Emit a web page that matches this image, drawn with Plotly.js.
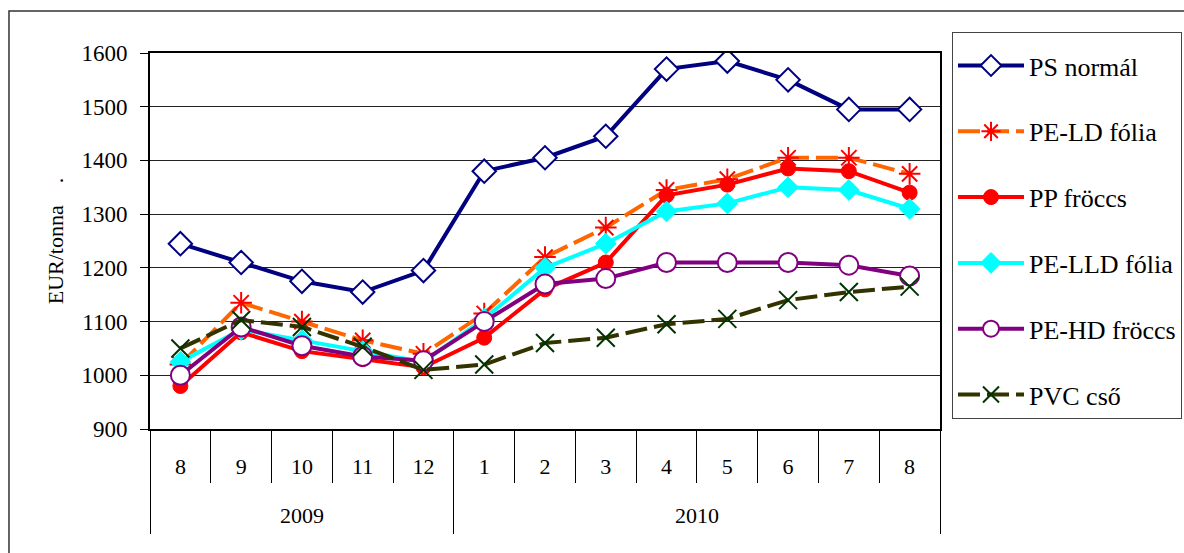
<!DOCTYPE html>
<html>
<head>
<meta charset="utf-8">
<script src="https://cdn.plot.ly/plotly-3.0.1.min.js"></script>
<style>html,body{margin:0;padding:0;background:#fff;}#chart{width:1184px;height:553px;}</style>
</head>
<body>
<div id="chart"></div>
<script>
// Category axis
const years  = ['2009','2009','2009','2009','2009','2010','2010','2010','2010','2010','2010','2010','2010'];
const months = ['8','9','10','11','12','1','2','3','4','5','6','7','8'];

// Series values (EUR/tonna)
const psNormal   = [1245,1210,1175,1155,1195,1380,1405,1445,1570,1585,1550,1495,1495];
const peLdFolia  = [1020,1135,1100,1065,1040,1115,1220,1275,1345,1365,1405,1405,1375];
const ppFroccs   = [980,1080,1045,1030,1015,1070,1160,1210,1335,1355,1385,1380,1340];
const peLldFolia = [1025,1085,1065,1045,1025,1105,1200,1245,1305,1320,1350,1345,1310];
const peHdFroccs = [1000,1090,1055,1035,1027,1100,1170,1180,1210,1210,1210,1205,1185];
const pvcCso     = [1050,1103,1090,1053,1010,1020,1060,1070,1095,1105,1140,1155,1165];

const seriesNames = ['PS normál','PE-LD fólia','PP fröccs','PE-LLD fólia','PE-HD fröccs','PVC cső'];
const yTitle = 'EUR/tonna\u00a0\u00a0\u00a0\u00a0.';

const FONT = 'Liberation Serif';

// category positions derived from the label arrays
const idx = months.map((_, i) => i);
const monthBounds = idx.map(i => i - 0.5).concat([months.length - 0.5]);
const yearNames = [...new Set(years)];
const yearCenters = yearNames.map(yr => {
  const ii = idx.filter(i => years[i] === yr);
  return (ii[0] + ii[ii.length - 1]) / 2;
});
const yearBounds = [-0.5].concat(yearNames.map(yr => {
  const ii = idx.filter(i => years[i] === yr);
  return ii[ii.length - 1] + 0.5;
}));
const xRange = [-0.5, months.length - 0.5];

function tr(name, y, lineColor, dash, symbol, mSize, mColor, mFill, mLineW) {
  return {
    type: 'scatter', mode: 'lines+markers', name: name, legendgroup: name,
    x: idx, y: y,
    line: {color: lineColor, width: 4, dash: dash},
    marker: {symbol: symbol, size: mSize, color: mFill, line: {color: mColor, width: mLineW}}
  };
}
function axisHolder(xa) {
  return {type: 'scatter', mode: 'lines', xaxis: xa, yaxis: 'y', x: xRange, y: [null, null],
          showlegend: false, hoverinfo: 'skip'};
}

const data = [
  tr(seriesNames[0], psNormal,   '#000080', 'solid',     'diamond',        18, '#000080', '#ffffff', 2),
  tr(seriesNames[1], peLdFolia,  '#FF6600', '22px,7px',  'asterisk-open',  18, '#FF0000', '#FF0000', 2),
  tr(seriesNames[2], ppFroccs,   '#FF0000', 'solid',     'circle',         15, '#FF0000', '#FF0000', 1),
  tr(seriesNames[3], peLldFolia, '#00FFFF', 'solid',     'diamond',        16, '#00FFFF', '#00FFFF', 1),
  tr(seriesNames[4], peHdFroccs, '#800080', 'solid',     'circle',         19, '#800080', '#ffffff', 2),
  tr(seriesNames[5], pvcCso,     '#333300', '22px,7px',  'x-thin-open',    18, '#003300', '#003300', 2),
  axisHolder('x2'), axisHolder('x3'), axisHolder('x4')
];

const baseX = {showgrid: false, zeroline: false, range: xRange, fixedrange: true};

const layout = {
  width: 1184, height: 553,
  margin: {l: 150, r: 244, t: 53, b: 124, autoexpand: false},
  paper_bgcolor: '#ffffff', plot_bgcolor: '#ffffff',
  font: {family: FONT, color: '#000', size: 22},
  showlegend: true,
  xaxis: Object.assign({}, baseX, {
    showline: true, mirror: true, linecolor: '#000', linewidth: 2,
    tickmode: 'array', tickvals: idx, ticktext: months,
    ticks: '', ticklabelstandoff: 17,
    tickfont: {family: FONT, size: 22, color: '#000'}
  }),
  xaxis2: Object.assign({}, baseX, {
    overlaying: 'x', anchor: 'y', side: 'bottom', showline: false,
    tickmode: 'array', tickvals: monthBounds, showticklabels: false,
    ticks: 'outside', ticklen: 53, tickwidth: 1, tickcolor: '#000'
  }),
  xaxis3: Object.assign({}, baseX, {
    overlaying: 'x', anchor: 'y', side: 'bottom', showline: false,
    tickmode: 'array', tickvals: yearBounds, showticklabels: false,
    ticks: 'outside', ticklen: 104, tickwidth: 1, tickcolor: '#000'
  }),
  xaxis4: Object.assign({}, baseX, {
    overlaying: 'x', anchor: 'y', side: 'bottom', showline: false,
    tickmode: 'array', tickvals: yearCenters, ticktext: yearNames,
    ticks: '', ticklabelstandoff: 71,
    tickfont: {family: FONT, size: 22, color: '#000'}
  }),
  yaxis: {
    range: [900, 1600], dtick: 100, tick0: 900,
    showline: true, mirror: true, linecolor: '#000', linewidth: 2,
    showgrid: true, gridcolor: '#222', gridwidth: 1,
    ticks: 'outside', ticklen: 8, tickcolor: '#000', tickwidth: 1,
    ticklabelstandoff: 8,
    tickfont: {family: FONT, size: 23, color: '#000'},
    zeroline: false, automargin: true,
    title: {text: yTitle, standoff: 12, font: {family: FONT, size: 22, color: '#000'}}
  },
  legend: {
    x: 1.0152, y: 1.0559, xanchor: 'left', yanchor: 'top',
    bordercolor: '#444', borderwidth: 1, bgcolor: '#ffffff',
    font: {family: FONT, size: 26, color: '#000'},
    title: {text: ' ', font: {family: FONT, size: 7}},
    traceorder: 'grouped', tracegroupgap: 29, itemwidth: 66,
    maxheight: 520
  },
  shapes: [{
    type: 'rect', xref: 'paper', yref: 'paper',
    x0: -0.1785, x1: 1.4, y0: -0.5, y1: 1.1117,
    line: {color: '#333', width: 1.5}, fillcolor: 'rgba(0,0,0,0)', layer: 'below'
  }]
};

Plotly.newPlot('chart', data, layout, {displayModeBar: false, staticPlot: true});
</script>
</body>
</html>
